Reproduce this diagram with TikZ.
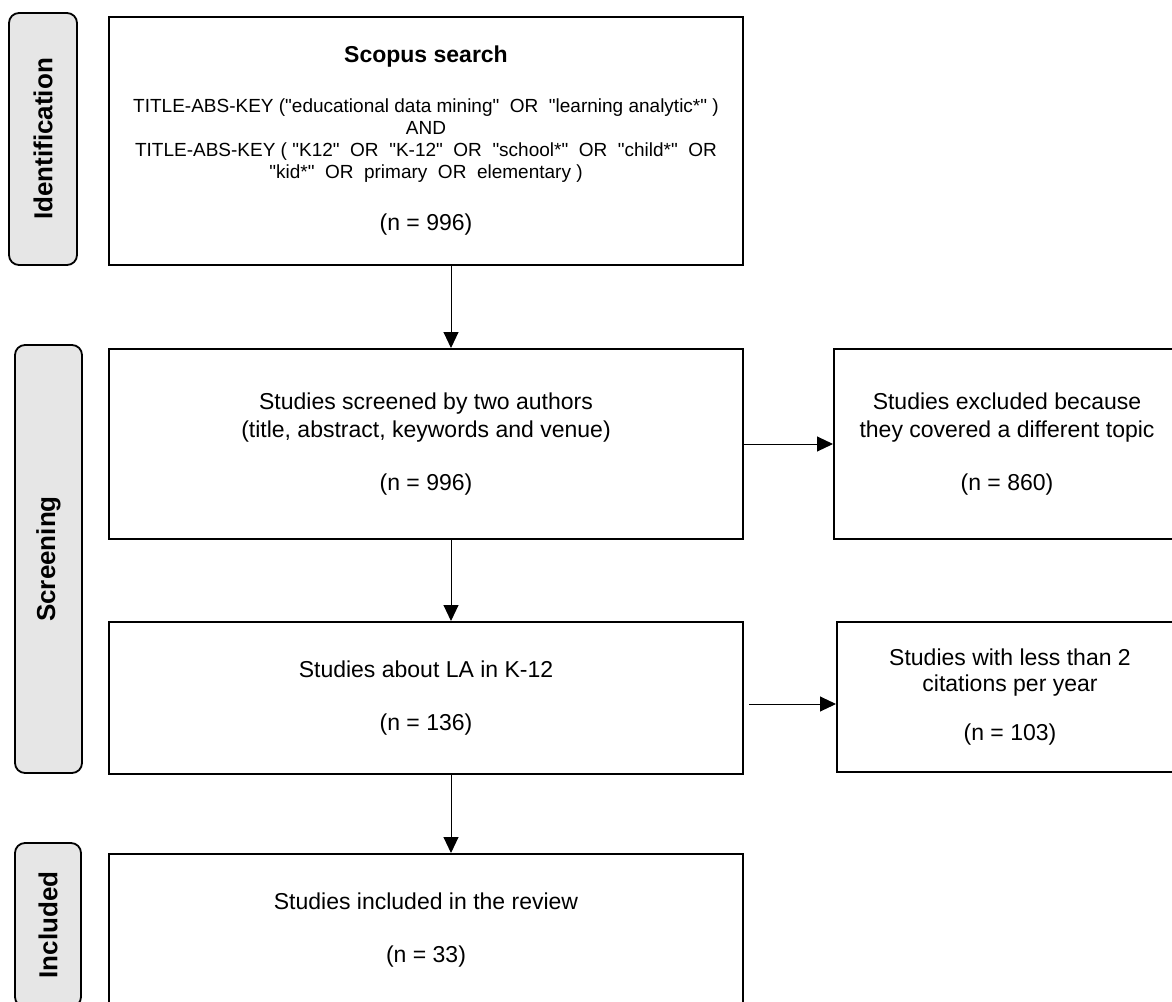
\documentclass[tikz,border=0pt]{standalone}
\usepackage{fontspec}
\setmainfont{Liberation Sans}[Ligatures=TeXOff]
\usepackage{tikz}
\usetikzlibrary{arrows.meta}
\definecolor{phasegray}{HTML}{E6E6E6}
\newcommand{\fbnode}[5]{\node [#1, minimum height=#4] (#2) at (#3) {#5}}

\tikzset{
  mainbox/.style={draw, line width=2pt, minimum width=634pt, align=center, inner sep=0pt, font=\fontsize{23}{28}\selectfont},
  sidebox/.style={mainbox, minimum width=346pt},
  phase/.style={draw, line width=1.8pt, fill=phasegray, rounded corners=10pt, inner sep=0pt, rotate=90, font=\fontsize{26}{30}\selectfont\bfseries},
  txt/.style={align=center, inner sep=0pt, font=\fontsize{23}{28}\selectfont},
  query/.style={align=center, inner sep=0pt, font=\fontsize{19}{22}\selectfont},
  arr/.style={line width=1pt, -{Triangle[length=16pt,width=15pt]}}
}

\begin{document}
\begin{tikzpicture}[x=1pt,y=-1pt]

\useasboundingbox (0,0) rectangle (1172,1001);
\clip (0,0) rectangle (1172,1001);

\fbnode{phase, minimum width=252pt}{IDENT}{43,139}{68pt}{Identification};
\fbnode{phase, minimum width=428pt}{SCREEN}{48.5,559}{67pt}{Screening};
\fbnode{phase, minimum width=164pt}{INCL}{48,925}{66pt}{Included};

\fbnode{mainbox}{SCOPUS}{426,141}{248pt}{};
\node [txt, font=\fontsize{23}{28}\selectfont\bfseries] (SCOPUST) at (426,57) {Scopus search};
\node [query] (QUERY) at (426,141) {TITLE-ABS-KEY ("educational data mining"\ \ OR\ \ "learning analytic*" )\\
  AND\\
  TITLE-ABS-KEY ( "K12"\ \ OR\ \ "K-12"\ \ OR\ \ "school*"\ \ OR\ \ "child*"\ \ OR\\
  "kid*"\ \ OR\ \ primary\ \ OR\ \ elementary )};
\node [txt] (SCOPUSN) at (426,225) {(n = 996)};

\fbnode{mainbox}{SCREENED}{426,444}{190pt}{Studies screened by two authors\\(title, abstract, keywords and venue)\\[25pt](n = 996)};
\fbnode{sidebox}{EXCLA}{1007,444}{190pt}{Studies excluded because\\they covered a different topic\\[25pt](n = 860)};

\fbnode{mainbox}{ABOUT}{426,698}{152pt}{Studies about LA in K-12\\[25pt](n = 136)};
\fbnode{sidebox}{EXCLB}{1010,697}{150pt}{Studies with less than 2\\[-2pt]citations per year\\[21pt](n = 103)};

\fbnode{mainbox}{FINAL}{426,930.5}{153pt}{Studies included in the review\\[25pt](n = 33)};

\draw[arr] ([xshift=25pt]SCOPUS.south) -- ([xshift=25pt]SCREENED.north);
\draw[arr] ([xshift=25pt]SCREENED.south) -- ([xshift=25pt]ABOUT.north);
\draw[arr] ([xshift=25pt]ABOUT.south) -- ([xshift=25pt]FINAL.north);
\draw[arr] (SCREENED.east) -- (EXCLA.west);
\draw[arr] ([xshift=5pt,yshift=-6pt]ABOUT.east) -- ([yshift=-7pt]EXCLB.west);

\end{tikzpicture}
\end{document}
